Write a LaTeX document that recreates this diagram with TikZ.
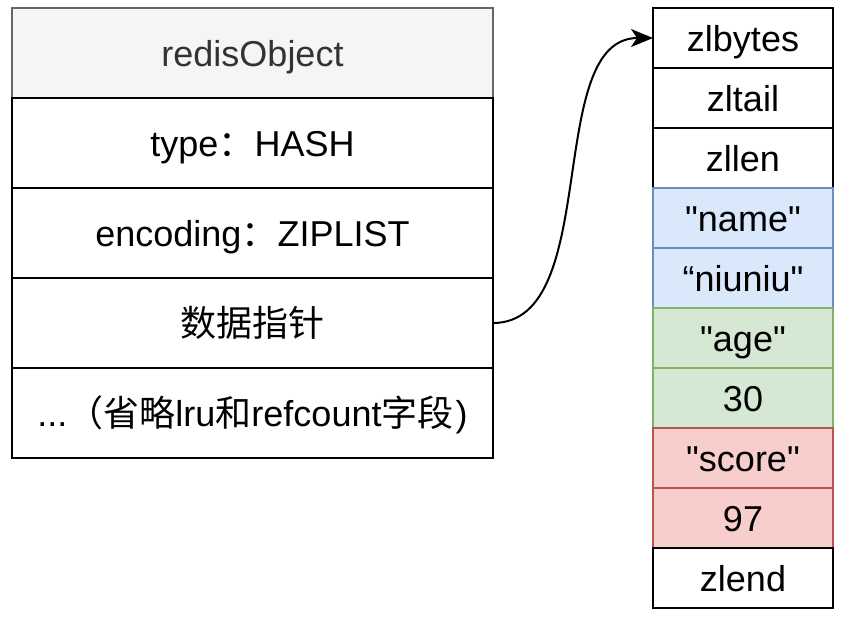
\documentclass[tikz,border=0pt]{standalone}
\usepackage{fontspec}
\setmainfont{Liberation Sans}[Ligatures=TeXOff]
\newfontfamily\cjk{Noto Sans CJK SC}
\usetikzlibrary{positioning,arrows.meta}

\definecolor{hdrfill}{HTML}{F5F5F5}
\definecolor{hdrline}{HTML}{666666}
\definecolor{hdrtext}{HTML}{333333}
\definecolor{bluefill}{HTML}{DAE8FC}
\definecolor{blueline}{HTML}{6C8EBF}
\definecolor{greenfill}{HTML}{D5E8D4}
\definecolor{greenline}{HTML}{82B366}
\definecolor{redfill}{HTML}{F8CECC}
\definecolor{redline}{HTML}{B85450}

\begin{document}
\begin{tikzpicture}[x=0.5pt, y=-0.5pt, >={Stealth[length=11pt,width=9pt,inset=3pt]},
    node distance=0pt,
    field/.style={draw, fill=white, line width=1pt, minimum width=240.5pt, minimum height=45pt,
                  inner sep=0pt, outer sep=0pt, text height=15pt, text depth=2pt,
                  font=\fontsize{18}{21}\selectfont},
    cell/.style={draw, fill=white, line width=1pt, minimum width=90pt, minimum height=30pt,
                 inner sep=0pt, outer sep=0pt, text height=15pt, text depth=2pt,
                 font=\fontsize{18}{21}\selectfont},
    keyA/.style={cell, fill=bluefill, draw=blueline},
    keyB/.style={cell, fill=greenfill, draw=greenline},
    keyC/.style={cell, fill=redfill, draw=redline}]
    \useasboundingbox (0,0) rectangle (846,622);

    % redisObject {obj, type, enc, ptr, rest}
    \node [field, fill=hdrfill, draw=hdrline, text=hdrtext] (obj) at (252.5,53) {redisObject};
    \node [field]  (type)  [below=of obj]   {type{\cjk ：}HASH};
    \node [field]  (enc)   [below=of type]  {encoding{\cjk ：}ZIPLIST};
    \node [field]  (ptr)   [below=of enc]   {{\cjk 数据指针}};
    \node [field]  (rest)  [below=of ptr]   {...{\cjk （省略}lru{\cjk 和}refcount{\cjk 字段}\kern1pt)};

    % ziplist {zlbytes, zltail, zllen, entries, zlend}
    \node [cell]   (zlbytes)  at (743,38)          {zlbytes};
    \node [cell]   (zltail)   [below=of zlbytes]   {zltail};
    \node [cell]   (zllen)    [below=of zltail]    {zllen};
    \node [keyA]   (e1)       [below=of zllen]     {"name"};
    \node [keyA]   (e2)       [below=of e1]        {“niuniu"};
    \node [keyB]   (e3)       [below=of e2]        {"age"};
    \node [keyB]   (e4)       [below=of e3]        {30};
    \node [keyC]   (e5)       [below=of e4]        {"score"};
    \node [keyC]   (e6)       [below=of e5]        {97};
    \node [cell]   (zlend)    [below=of e6]        {zlend};

    % Path
    \draw [->, line width=1pt] (ptr.east) .. controls +(110,0) and +(-110,0) .. (zlbytes.west);

\end{tikzpicture}
\end{document}
